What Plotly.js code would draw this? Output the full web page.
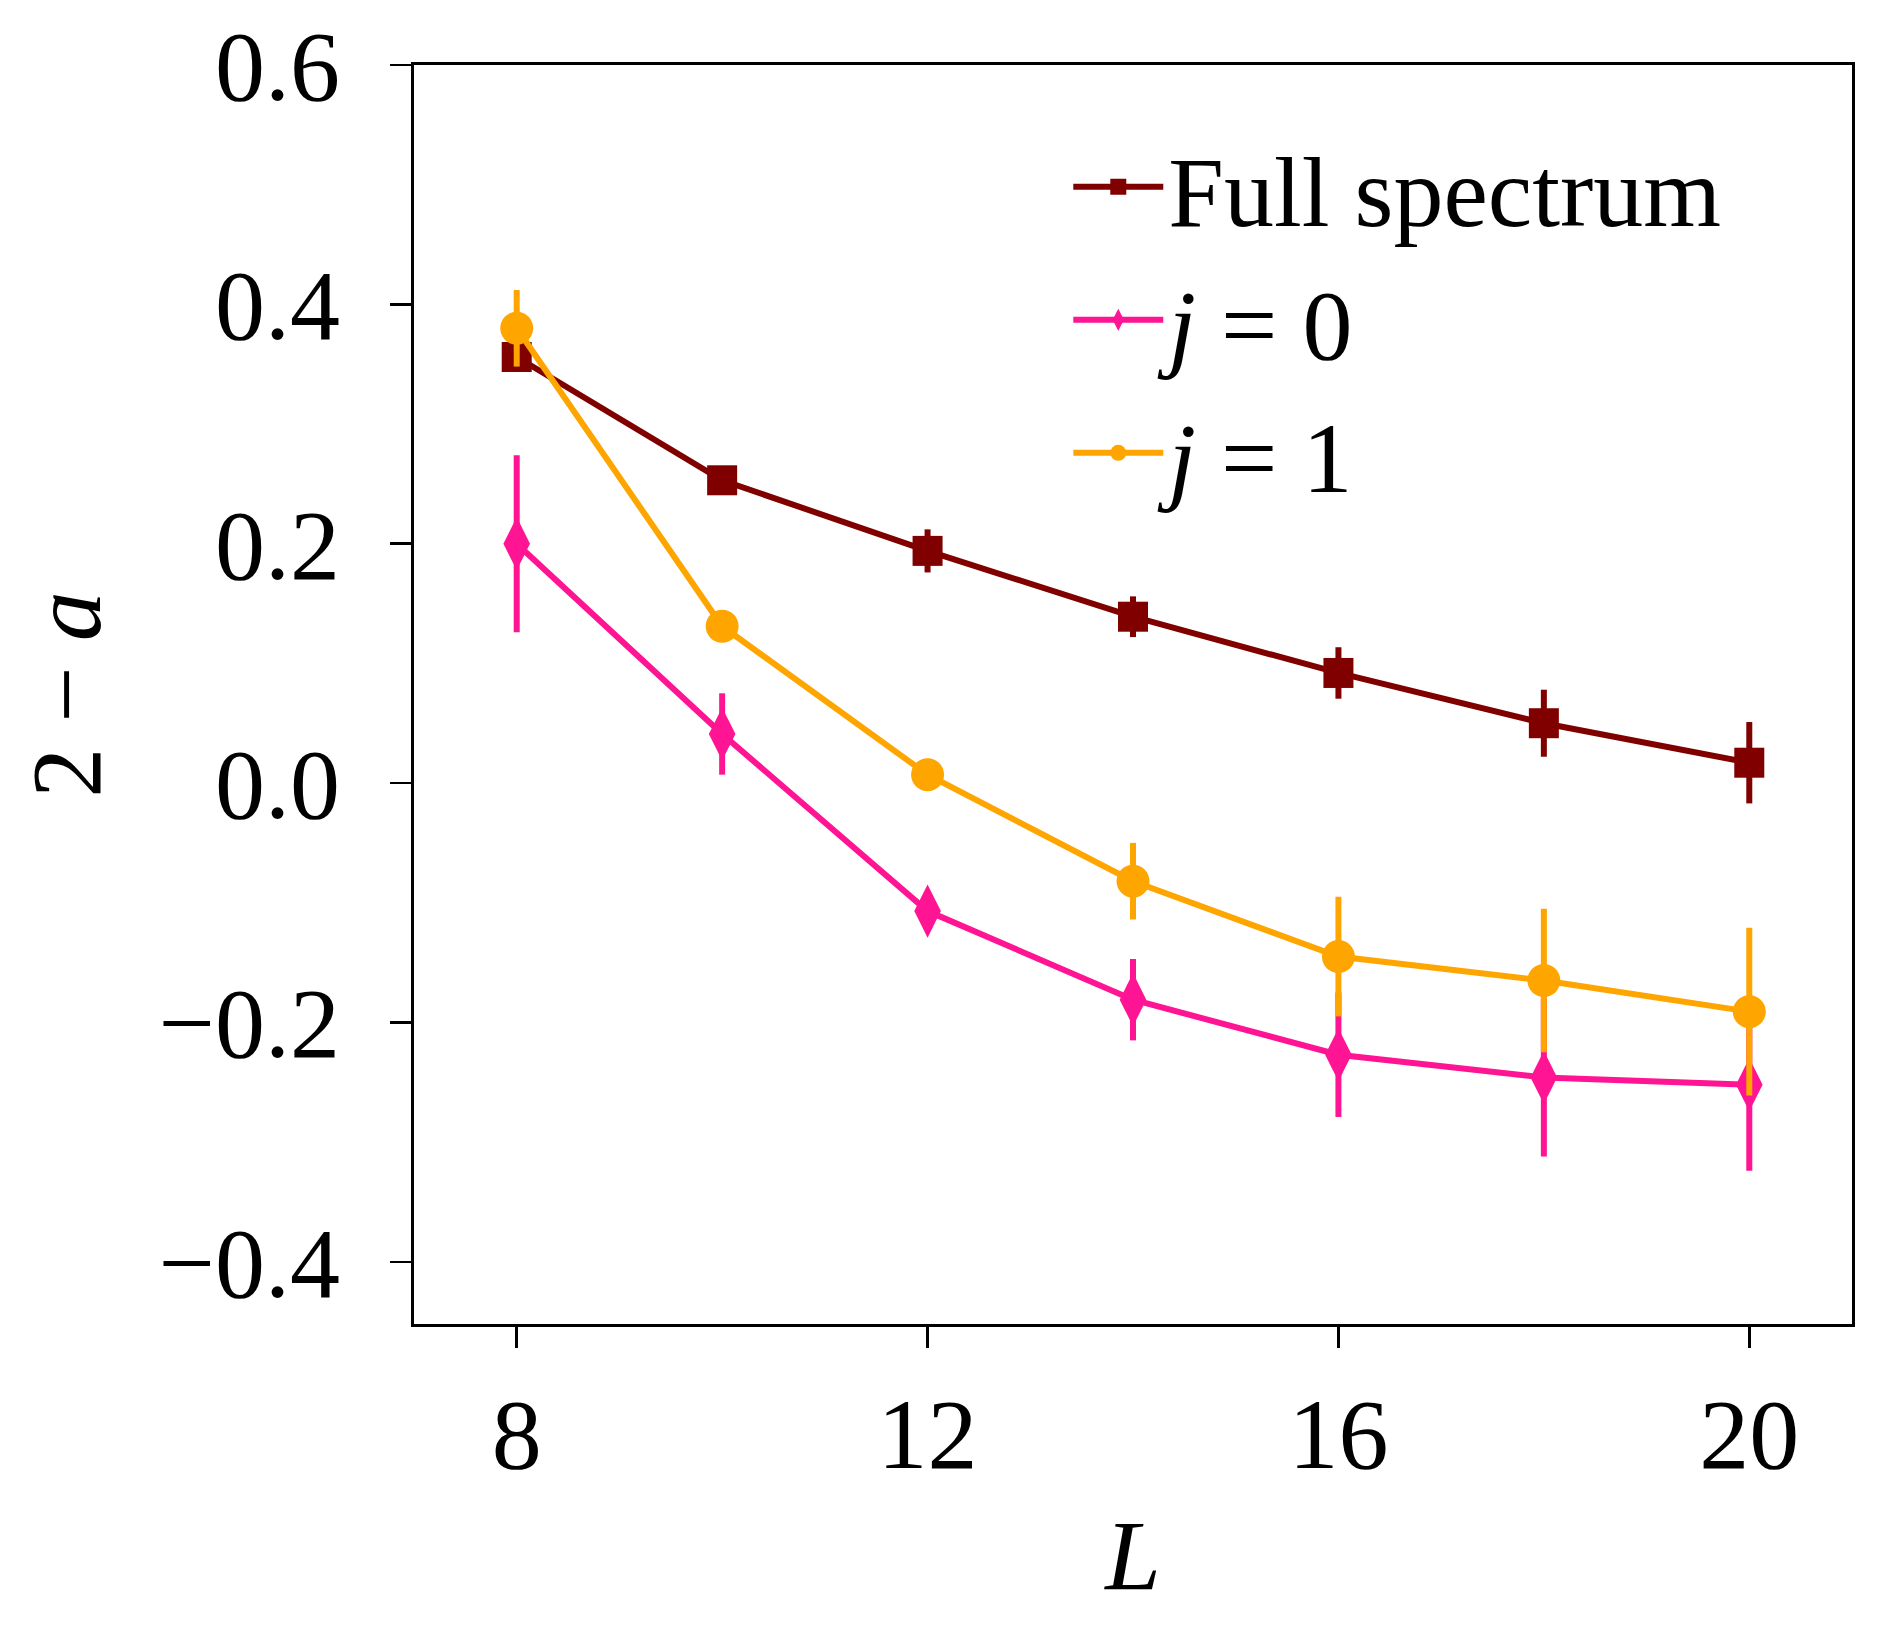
<!DOCTYPE html>
<html>
<head>
<meta charset="utf-8">
<script src="https://cdn.plot.ly/plotly-3.0.1.min.js"></script>
<style>
  html, body { margin: 0; padding: 0; background: #fff; }
  #plot { width: 1884px; height: 1646px; }
</style>
</head>
<body>
<div id="plot"></div>
<script>
// system sizes
var L = [8, 10, 12, 14, 16, 18, 20];

// 2 - a, full spectrum
var fullVals = [0.356, 0.253, 0.194, 0.139, 0.092, 0.050, 0.017];
var fullErr  = [0.010, 0.010, 0.018, 0.017, 0.0215, 0.028, 0.034];

// j = 0 sector
var j0Vals = [0.200, 0.041, -0.107, -0.181, -0.227, -0.246, -0.252];
var j0Err  = [0.074, 0.034, 0.012, 0.034, 0.052, 0.066, 0.072];

// j = 1 sector
var j1Vals = [0.380, 0.131, 0.007, -0.082, -0.145, -0.165, -0.191];
var j1Err  = [0.032, 0.010, 0.010, 0.032, 0.050, 0.060, 0.070];

var seriesNames = ['Full spectrum', '<i>j</i> = 0', '<i>j</i> = 1'];
var seriesColors = ['#800000', '#ff1493', '#ffa500'];
var seriesSymbols = ['square', 'diamond-tall', 'circle'];
var seriesSizes = [30, 38, 33];

var fontFam = 'Liberation Serif, serif';

function makeTrace(i, vals, errs) {
  return {
    x: L,
    y: vals,
    name: seriesNames[i],
    type: 'scatter',
    mode: 'lines+markers',
    line: {color: seriesColors[i], width: 6},
    marker: {color: seriesColors[i], symbol: seriesSymbols[i], size: seriesSizes[i]},
    error_y: {type: 'data', array: errs, visible: true, color: seriesColors[i], thickness: 6, width: 0}
  };
}

var data = [
  makeTrace(0, fullVals, fullErr),
  makeTrace(1, j0Vals, j0Err),
  makeTrace(2, j1Vals, j1Err)
];

var layout = {
  width: 1884,
  height: 1646,
  margin: {l: 414, r: 32, t: 65, b: 322},
  paper_bgcolor: '#fff',
  plot_bgcolor: '#fff',
  font: {family: fontFam, size: 100, color: '#000'},
  showlegend: true,
  legend: {
    x: 0.455, y: 0.96, xanchor: 'left', yanchor: 'top',
    bgcolor: 'rgba(0,0,0,0)', borderwidth: 0,
    font: {family: fontFam, size: 100},
    itemwidth: 90
  },
  xaxis: {
    range: [7, 21],
    tickmode: 'linear', tick0: 0, dtick: 4,
    showline: true, mirror: true, linecolor: '#000', linewidth: 3,
    ticks: 'outside', ticklen: 21, tickwidth: 2.5, tickcolor: '#000',
    showgrid: false, zeroline: false,
    ticklabelstandoff: 0,
    tickfont: {family: fontFam, size: 100},
    title: {text: '<i>L</i>', font: {family: fontFam, size: 100}, standoff: 30}
  },
  yaxis: {
    range: [-0.452, 0.6],
    tickmode: 'linear', tick0: 0, dtick: 0.2,
    tickformat: '.1f',
    showline: true, mirror: true, linecolor: '#000', linewidth: 3,
    ticks: 'outside', ticklen: 21, tickwidth: 2.5, tickcolor: '#000',
    showgrid: false, zeroline: false,
    ticklabelstandoff: 30,
    tickfont: {family: fontFam, size: 100},
    title: {text: '2 \u2212 <i>a</i>', font: {family: fontFam, size: 100}, standoff: 25}
  }
};

Plotly.newPlot('plot', data, layout, {displayModeBar: false, staticPlot: true});
</script>
</body>
</html>
